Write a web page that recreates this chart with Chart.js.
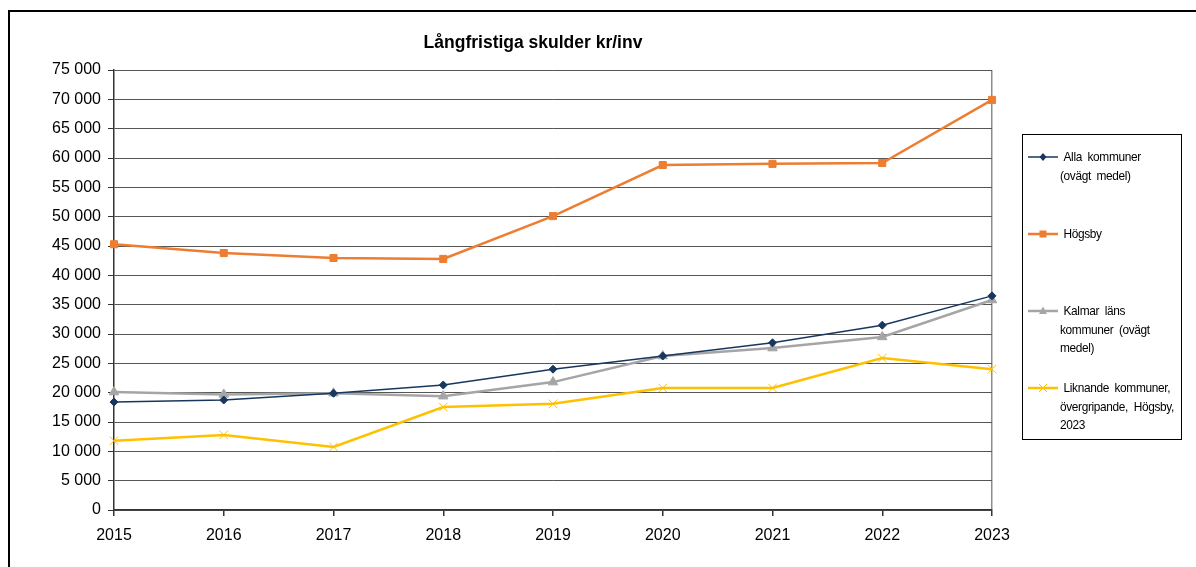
<!DOCTYPE html>
<html>
<head>
<meta charset="utf-8">
<script src="https://cdn.jsdelivr.net/npm/chart.js@4"></script>
<style>
  body { margin: 0; background: #fff; font-family: "Liberation Sans", Arial, sans-serif; }
  #frame { position: absolute; left: 8px; top: 10px; width: 1300px; height: 700px; border: 2px solid #000; box-sizing: border-box; }
  #wrap { position: absolute; left: 0; top: 0; width: 1196px; height: 567px; }
  #title { position: absolute; left: 333px; width: 400px; top: 31px; text-align: center; font-weight: bold; font-size: 17.5px; line-height: 22px; color: #000; }
  #legend { position: absolute; left: 1022px; top: 134px; width: 160px; height: 306px; border: 1px solid #000;
            box-sizing: border-box; padding-top: 13px; display: grid; grid-template-rows: repeat(4, 77px); }
  .item { position: relative; font-size: 13.5px; line-height: 18.5px; letter-spacing: -0.4px; word-spacing: 3px; color: #000; }
  .item svg { position: absolute; left: 5px; top: 0; }
  .item .txt { position: absolute; left: 37px; width: 132px; text-indent: 4px; transform: scaleX(0.88); transform-origin: 0 0; }
</style>
</head>
<body>
<div id="frame"></div>
<div id="wrap"><canvas id="skulder" width="1196" height="567"></canvas></div>
<div id="title">Långfristiga skulder kr/inv</div>
<div id="legend"></div>
<script>
const years = ['2015', '2016', '2017', '2018', '2019', '2020', '2021', '2022', '2023'];
const allaKommuner = [18400, 18750, 19900, 21300, 24000, 26250, 28500, 31500, 36500];
const hogsby = [45300, 43800, 42950, 42800, 50100, 58800, 59000, 59150, 69900];
const kalmarLan = [20100, 19700, 19900, 19400, 21800, 26250, 27600, 29500, 35800];
const liknande = [11800, 12800, 10750, 17550, 18100, 20800, 20800, 25900, 24000];
const seriesNames = ['Alla kommuner (ovägt medel)', 'Högsby', 'Kalmar läns kommuner (ovägt medel)', 'Liknande kommuner, övergripande, Högsby, 2023'];

function fmt(v) {
    return String(v).replace(/\B(?=(\d{3})+(?!\d))/g, ' ');
}

const ctx = document.getElementById('skulder');

const chart = new Chart(ctx, {
    type: 'line',
    data: {
        labels: years,
        datasets: [{
                label: seriesNames[0],
                data: allaKommuner,
                borderColor: '#17375e',
                backgroundColor: '#17375e',
                borderWidth: 1.5,
                pointStyle: 'rectRot',
                pointRadius: 4,
                pointBorderWidth: 1
            },
            {
                label: seriesNames[1],
                data: hogsby,
                borderColor: '#ed7d31',
                backgroundColor: '#ed7d31',
                borderWidth: 2.5,
                pointStyle: 'rect',
                pointRadius: 5,
                pointBorderWidth: 1
            },
            {
                label: seriesNames[2],
                data: kalmarLan,
                borderColor: '#a5a5a5',
                backgroundColor: '#a5a5a5',
                borderWidth: 2.5,
                pointStyle: 'triangle',
                pointRadius: 5.5,
                pointBorderWidth: 1
            },
            {
                label: seriesNames[3],
                data: liknande,
                borderColor: '#ffc000',
                backgroundColor: '#ffc000',
                borderWidth: 2.5,
                pointStyle: 'crossRot',
                pointRadius: 6,
                pointBorderWidth: 1
            }
        ]
    },
    options: {
        responsive: false,
        animation: false,
        layout: {
            padding: { left: 0, right: 204, top: 70, bottom: 0 }
        },
        plugins: {
            legend: { display: false },
            tooltip: { enabled: false },
            title: { display: false }
        },
        scales: {
            x: {
                offset: false,
                afterFit: function(scale) { scale.height = 57; },
                grid: {
                    color: function(c) { return c.index === years.length - 1 ? '#8c8c8c' : 'rgba(0,0,0,0)'; },
                    tickColor: '#333',
                    tickLength: 6,
                    lineWidth: 1.5
                },
                border: { color: '#333', width: 1.5 },
                ticks: {
                    color: '#000',
                    padding: 10,
                    maxRotation: 0,
                    font: { family: 'Liberation Sans', size: 16 }
                }
            },
            y: {
                min: 0,
                max: 75000,
                afterFit: function(scale) { scale.width = 114; },
                grid: {
                    color: '#555',
                    tickColor: '#333',
                    tickLength: 6
                },
                border: { color: '#333', width: 1.5 },
                ticks: {
                    stepSize: 5000,
                    color: '#000',
                    padding: 7,
                    font: { family: 'Liberation Sans', size: 16 },
                    callback: function(v) { return fmt(v); }
                }
            }
        },
        elements: {
            line: { tension: 0 }
        }
    }
});

// legend built from the datasets
function markerSvg(ds) {
    const c = ds.borderColor;
    let m = '';
    if (ds.pointStyle === 'rectRot') m = '<polygon points="15,5 18.5,9 15,13 11.5,9" fill="' + c + '"/>';
    if (ds.pointStyle === 'rect') m = '<rect x="11.5" y="5.5" width="7" height="7" fill="' + c + '"/>';
    if (ds.pointStyle === 'triangle') m = '<polygon points="15,4.5 19,12 11,12" fill="' + c + '"/>';
    if (ds.pointStyle === 'crossRot') m = '<path d="M11,5 L19,13 M19,5 L11,13" stroke="' + c + '" stroke-width="1"/>';
    return '<svg width="30" height="18"><line x1="0" y1="9" x2="30" y2="9" stroke="' + c + '" stroke-width="' + ds.borderWidth + '"/>' + m + '</svg>';
}
const legend = document.getElementById('legend');
chart.data.datasets.forEach(function(ds) {
    const d = document.createElement('div');
    d.className = 'item';
    d.innerHTML = markerSvg(ds) + '<div class="txt">' + ds.label + '</div>';
    legend.appendChild(d);
});
</script>
</body>
</html>
